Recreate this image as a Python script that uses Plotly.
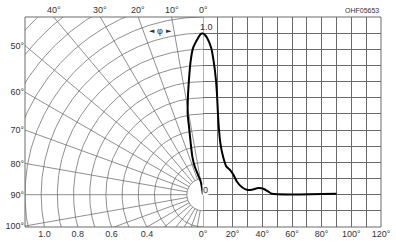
import numpy as np
import plotly.graph_objects as go

# ---- data ----
# left half: polar representation (angle from axis in degrees, relative intensity)
polar_phi = [0, 0.9, 1.8, 3.9, 5.3, 6.8, 8.5, 10.8, 11.6, 13.4, 15.6, 16.3, 14.1, 9.8, 8.5, 20.0]
polar_r = [1.0, 0.993, 0.97, 0.909, 0.829, 0.727, 0.626, 0.505, 0.431, 0.328, 0.245, 0.182, 0.127, 0.083, 0.042, 0.0]

# right half: cartesian representation (angle in degrees, relative intensity)
cart_angle = [0, 1.2, 2.9, 5.6, 7.2, 8.6, 9.45, 10.1, 10.6, 11.7, 13.5, 15.7, 18.2, 20.5, 22.8,
              26.1, 29.5, 32.9, 37.3, 40.7, 44.1, 46.4, 90]
cart_I = [1.0, 0.99, 0.969, 0.907, 0.825, 0.722, 0.619, 0.496, 0.422, 0.319, 0.236, 0.175, 0.154,
          0.123, 0.082, 0.048, 0.031, 0.031, 0.041, 0.037, 0.019, 0.006, 0.006]

top_angle_labels = [40, 30, 20, 10, 0]
left_angle_labels = [50, 60, 70, 80, 90, 100]
bottom_r_labels = [1.0, 0.8, 0.6, 0.4]
inner_labels = [0.8, 0.6, 0.4, 0.2]
right_ticks = list(range(0, 121, 10))
doc_id = "OHF05653"

GRID = "#6a6a6a"
TXT = "#333333"
FONT = "Liberation Sans, Arial, sans-serif"
XL, YB, YT = -1.1, -0.2, 1.1

fig = go.Figure()

# polar grid (left half)
gx, gy = [], []
t = np.radians(np.linspace(0, 180, 361))
for r in np.arange(0.1, 1.61, 0.1):
    gx += list(-r * np.sin(t)) + [None]
    gy += list(r * np.cos(t)) + [None]
for a in range(10, 180, 10):
    ar = np.radians(a)
    gx += [-0.1 * np.sin(ar), -2.5 * np.sin(ar), None]
    gy += [0.1 * np.cos(ar), 2.5 * np.cos(ar), None]
fig.add_trace(go.Scatter(x=gx, y=gy, mode="lines", line=dict(color=GRID, width=0.75),
                         hoverinfo="skip", showlegend=False, xaxis="x", yaxis="y"))

# curve, polar part
pp = np.radians(np.array(polar_phi))
pr = np.array(polar_r)
fig.add_trace(go.Scatter(x=-pr * np.sin(pp), y=pr * np.cos(pp), mode="lines",
                         line=dict(color="black", width=2, shape="spline", smoothing=0.5),
                         showlegend=False, xaxis="x", yaxis="y"))
# curve, cartesian part
fig.add_trace(go.Scatter(x=cart_angle, y=cart_I, mode="lines",
                         line=dict(color="black", width=2, shape="spline", smoothing=0.6),
                         showlegend=False, xaxis="x2", yaxis="y2"))

axfont = dict(family=FONT, size=9, color=TXT)
common = dict(automargin=False, fixedrange=True, zeroline=False, ticks="", showline=False)
fig.update_layout(
    template="none",
    width=396, height=246,
    margin=dict(l=25, r=15, t=17, b=19, autoexpand=False),
    paper_bgcolor="white", plot_bgcolor="white",
    font=dict(family=FONT, size=9, color=TXT),
    xaxis=dict(domain=[0, 0.5], range=[XL, 0], anchor="y", showgrid=False,
               tickmode="array",
               tickvals=[-np.sqrt(r * r - YB * YB) for r in bottom_r_labels],
               ticktext=[f"{r:.1f}" for r in bottom_r_labels],
               tickfont=axfont, **common),
    yaxis=dict(domain=[0, 1], range=[YB, YT], anchor="x", showgrid=False,
               tickmode="array",
               tickvals=[-XL / np.tan(np.radians(a)) for a in left_angle_labels],
               ticktext=[f"{a}°" for a in left_angle_labels],
               tickfont=axfont, **common),
    xaxis2=dict(domain=[0.5, 1], range=[0, 120], anchor="y2", showgrid=True, gridcolor=GRID,
                gridwidth=0.75, tickmode="array", tickvals=right_ticks,
                ticktext=[f"{v}°" if v % 20 == 0 else "" for v in right_ticks],
                tickfont=axfont, **common),
    yaxis2=dict(domain=[0, 1], range=[YB, YT], anchor="x2", showgrid=True, gridcolor=GRID,
                gridwidth=0.75, tickmode="array",
                tickvals=list(np.round(np.arange(-0.2, 1.101, 0.1), 2)),
                showticklabels=False, **common),
)

shapes = [
    dict(type="line", xref="x2", yref="y2", x0=0, x1=0, y0=YB, y1=YT,
         line=dict(color=GRID, width=1), layer="below"),
    dict(type="rect", xref="paper", yref="paper", x0=0, x1=1, y0=0, y1=1,
         line=dict(color=GRID, width=1)),
]
fig.update_layout(shapes=shapes)

ann = []
for a in top_angle_labels:
    ann.append(dict(x=-YT * np.tan(np.radians(a)), y=1, xref="x", yref="paper",
                    text=f"{a}°", showarrow=False, yanchor="bottom", yshift=0,
                    font=axfont))
for v in inner_labels:
    ann.append(dict(x=-0.6, y=v, xref="x2", yref="y2", text=f"{v:.1f}", showarrow=False,
                    bgcolor="white", borderpad=0, font=axfont))
ann.append(dict(x=2.6, y=1.0, xref="x2", yref="y2", text="1.0", showarrow=False,
                yanchor="bottom", yshift=-1, font=axfont))
ann.append(dict(x=2.0, y=0.03, xref="x2", yref="y2", text="0", showarrow=False,
                bgcolor="white", borderpad=0, font=axfont))
ann.append(dict(x=1, y=1, xref="paper", yref="paper", text=doc_id, showarrow=False,
                xanchor="right", yanchor="bottom", yshift=1, font=dict(family=FONT, size=7, color=TXT)))
# phi dimension marker: arrows and symbol
ann.append(dict(x=-0.318, y=1.015, xref="x", yref="y", text="◄", showarrow=False,
                font=dict(family="DejaVu Sans, sans-serif", size=7, color=TXT)))
ann.append(dict(x=-0.212, y=1.015, xref="x", yref="y", text="►", showarrow=False,
                font=dict(family="DejaVu Sans, sans-serif", size=7, color=TXT)))
ann.append(dict(x=-0.265, y=1.015, xref="x", yref="y", text="φ", showarrow=False,
                font=dict(family="Liberation Sans, sans-serif", size=9, color="#222222")))
fig.update_layout(annotations=ann)

fig.write_html("out.html")
